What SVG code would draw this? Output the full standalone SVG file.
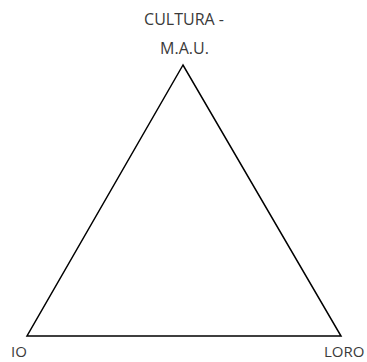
<svg xmlns="http://www.w3.org/2000/svg" width="367" height="362" viewBox="0 0 367 362">
<style>
text{font-family:"Open Sans","Liberation Sans",sans-serif;font-size:16px;fill:#3a3a3a}
.corner{font-size:15px}
.edge{fill:none;stroke:#000;stroke-width:1.5}
</style>
<rect width="367" height="362" fill="#fff"/>
<g id="connectors">
<path class="edge" d="M183,65 L27,336 L341,336 Z"/>
</g>
<g id="cultura">
<text x="184" y="25" text-anchor="middle">CULTURA -</text>
<text x="184.5" y="54" text-anchor="middle">M.A.U.</text>
</g>
<g id="io"><text class="corner" x="11" y="357">IO</text></g>
<g id="loro"><text class="corner" x="324" y="357">LORO</text></g>
</svg>
